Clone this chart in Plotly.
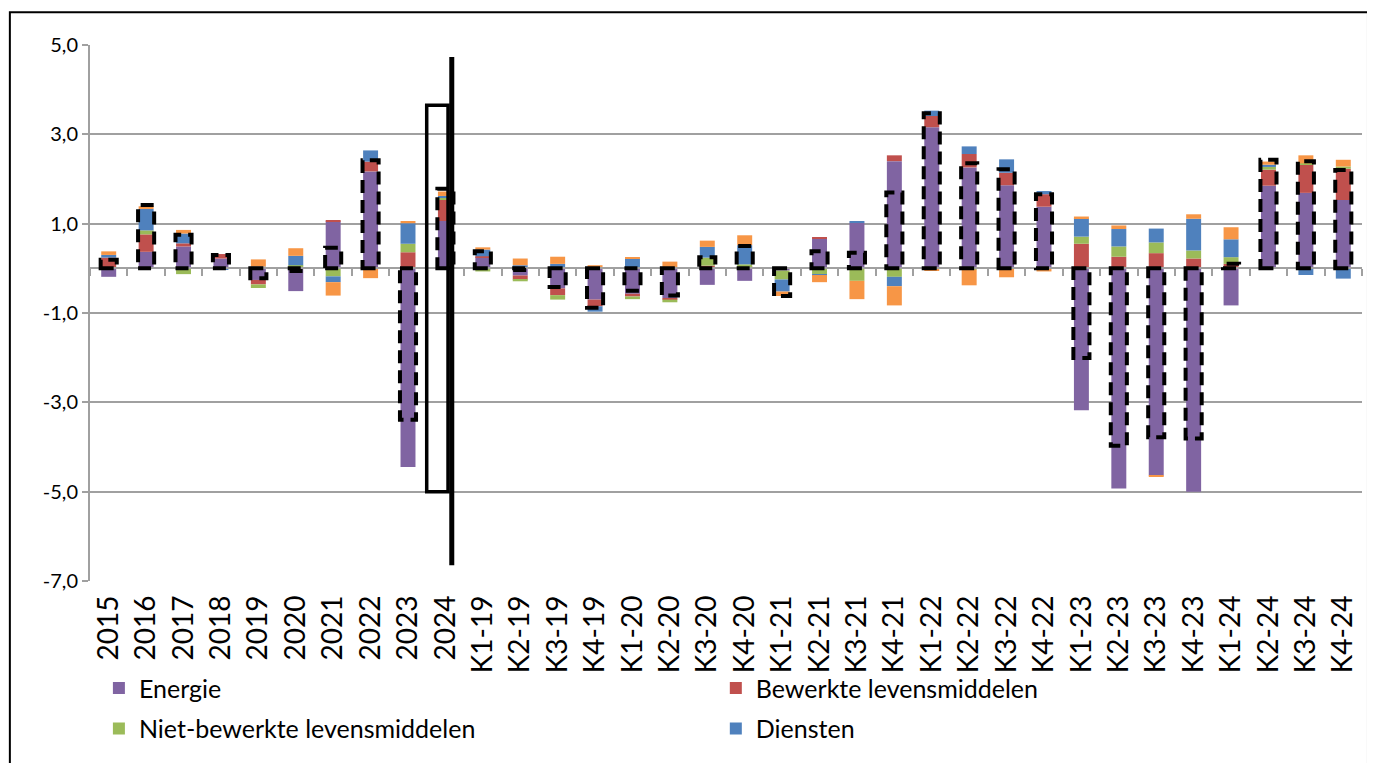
import plotly.graph_objects as go

categories = ["2015", "2016", "2017", "2018", "2019", "2020", "2021", "2022", "2023", "2024",
              "K1-19", "K2-19", "K3-19", "K4-19", "K1-20", "K2-20", "K3-20", "K4-20",
              "K1-21", "K2-21", "K3-21", "K4-21", "K1-22", "K2-22", "K3-22", "K4-22",
              "K1-23", "K2-23", "K3-23", "K4-23", "K1-24", "K2-24", "K3-24", "K4-24"]

energie = [-0.19, 0.37, 0.49, 0.22, -0.26, -0.51, 1.05, 2.17, -4.45, 1.06,
           0.25, -0.16, -0.45, -0.70, -0.57, -0.67, -0.37, -0.28,
           -0.05, 0.67, 1.02, 2.40, 3.16, 2.26, 1.86, 1.38,
           -3.18, -4.93, -4.64, -5.00, -0.83, 1.85, 1.69, 1.53]

bewerkte = [0.24, 0.39, 0.07, 0.10, -0.10, 0.03, 0.02, 0.22, 0.36, 0.47,
            0.02, -0.09, -0.15, -0.15, -0.06, -0.03, 0.06, 0.05,
            0.00, 0.02, 0.00, 0.13, 0.25, 0.30, 0.28, 0.28,
            0.55, 0.26, 0.34, 0.22, 0.10, 0.36, 0.63, 0.70]

niet_bewerkte = [0.00, 0.09, -0.13, 0.00, -0.08, 0.04, -0.18, 0.00, 0.19, 0.06,
                 -0.07, -0.04, -0.10, 0.00, -0.06, -0.06, 0.18, 0.04,
                 -0.20, -0.13, -0.28, -0.19, 0.00, -0.03, 0.00, 0.00,
                 0.16, 0.23, 0.24, 0.18, 0.15, 0.06, 0.03, 0.05]

diensten = [0.06, 0.48, 0.22, -0.03, 0.04, 0.21, -0.13, 0.25, 0.46, 0.03,
            0.15, 0.07, 0.10, -0.12, 0.22, 0.00, 0.24, 0.43,
            -0.27, -0.02, 0.02, -0.21, 0.12, 0.17, 0.30, 0.07,
            0.41, 0.39, 0.31, 0.71, 0.40, 0.05, -0.15, -0.23]

industriele_goederen = [0.08, 0.06, 0.08, 0.00, 0.16, 0.17, -0.30, -0.22, 0.05, 0.10,
                        0.05, 0.15, 0.16, 0.07, 0.02, 0.15, 0.14, 0.22,
                        -0.10, -0.16, -0.41, -0.43, -0.06, -0.35, -0.20, -0.07,
                        0.04, 0.08, -0.03, 0.10, 0.27, 0.07, 0.18, 0.15]

totaal = [0.19, 1.42, 0.75, 0.30, -0.22, -0.06, 0.46, 2.42, -3.39, 1.78,
          0.38, -0.04, -0.42, -0.88, -0.50, -0.61, 0.25, 0.50,
          -0.62, 0.38, 0.35, 1.70, 3.47, 2.35, 2.22, 1.66,
          -2.01, -3.97, -3.78, -3.81, 0.10, 2.43, 2.40, 2.20]

y_tickvals = [5, 3, 1, -1, -3, -5, -7]
y_ticktext = ["5,0", "3,0", "1,0", "-1,0", "-3,0", "-5,0", "-7,0"]

FONT = "Lato"
GRID = "#A0A0A0"

series = [
    ("Energie", energie, "#8064A2", "legend", "g1"),
    ("Bewerkte levensmiddelen", bewerkte, "#C0504D", "legend2", "g2"),
    ("Niet-bewerkte levensmiddelen", niet_bewerkte, "#9BBB59", "legend", "g3"),
    ("Diensten", diensten, "#4F81BD", "legend2", "g4"),
]

fig = go.Figure()
for name, vals, col, leg, grp in series:
    fig.add_trace(go.Bar(x=categories, y=vals, name=name, marker=dict(color=col, line=dict(width=0)),
                         legend=leg, legendgroup=grp))
fig.add_trace(go.Bar(x=categories, y=industriele_goederen, name="Niet-energetische industriële goederen",
                     marker=dict(color="#F79646", line=dict(width=0)), showlegend=False))

# invisible carrier for the zero-line axis with category boundary ticks
fig.add_trace(go.Scatter(x=categories, y=totaal, xaxis="x2", mode="markers",
                         marker=dict(opacity=0), showlegend=False, hoverinfo="skip"))

shapes = []
half = 0.215
for i, t in enumerate(totaal):
    shapes.append(dict(type="rect", xref="x", yref="y", x0=i - half, x1=i + half, y0=0, y1=t,
                       line=dict(color="black", width=4, dash="13px,7px"), fillcolor="rgba(0,0,0,0)",
                       layer="above"))

# highlight of 2024
i24 = categories.index("2024")
shapes.append(dict(type="rect", xref="x", yref="y", x0=i24 - 0.5, x1=i24 + 0.07, y0=-5.0, y1=3.65,
                   line=dict(color="black", width=3.5), fillcolor="rgba(0,0,0,0)", layer="above"))
shapes.append(dict(type="line", xref="x", yref="y", x0=i24 + 0.17, x1=i24 + 0.17, y0=-6.65, y1=4.73,
                   line=dict(color="black", width=5), layer="above"))

# outer chart border
shapes.append(dict(type="rect", xref="paper", yref="paper", x0=-0.063, x1=1.0047, y0=-0.4, y1=1.0613,
                   line=dict(color="black", width=2), fillcolor="rgba(0,0,0,0)", layer="below"))

fig.update_layout(
    width=1367, height=755,
    margin=dict(l=82, r=13, t=37, b=180),
    paper_bgcolor="white", plot_bgcolor="white",
    barmode="relative", bargap=0.6,
    font=dict(family=FONT, size=20, color="black"),
    shapes=shapes,
    xaxis=dict(type="category", categoryorder="array", categoryarray=categories,
               showgrid=False, showline=False, zeroline=False, ticks="", tickangle=-90,
               ticklabelstandoff=8,
               tickfont=dict(family=FONT, size=28, color="black"), range=[-0.5, len(categories) - 0.5]),
    xaxis2=dict(type="category", overlaying="x", matches="x", anchor="free", position=7 / 12,
                showline=True, linecolor=GRID, linewidth=2, ticks="outside", tickson="boundaries",
                ticklen=7, tickwidth=2, tickcolor=GRID, showticklabels=False, showgrid=False, zeroline=False),
    yaxis=dict(range=[-7, 5], tickvals=y_tickvals, ticktext=y_ticktext, showgrid=True, gridcolor=GRID,
               gridwidth=2, zeroline=False, showline=True, linecolor=GRID, linewidth=2, ticks="outside",
               ticklen=6, tickwidth=2, tickcolor=GRID, tickfont=dict(family=FONT, size=20, color="black")),
    legend=dict(x=0.007, y=-0.157, xanchor="left", yanchor="top", orientation="v", tracegroupgap=5,
                font=dict(family=FONT, size=25, color="black"), bgcolor="rgba(0,0,0,0)"),
    legend2=dict(x=0.492, y=-0.157, xanchor="left", yanchor="top", orientation="v", tracegroupgap=5,
                 font=dict(family=FONT, size=25, color="black"), bgcolor="rgba(0,0,0,0)"),
)

fig.write_html("out.html")
